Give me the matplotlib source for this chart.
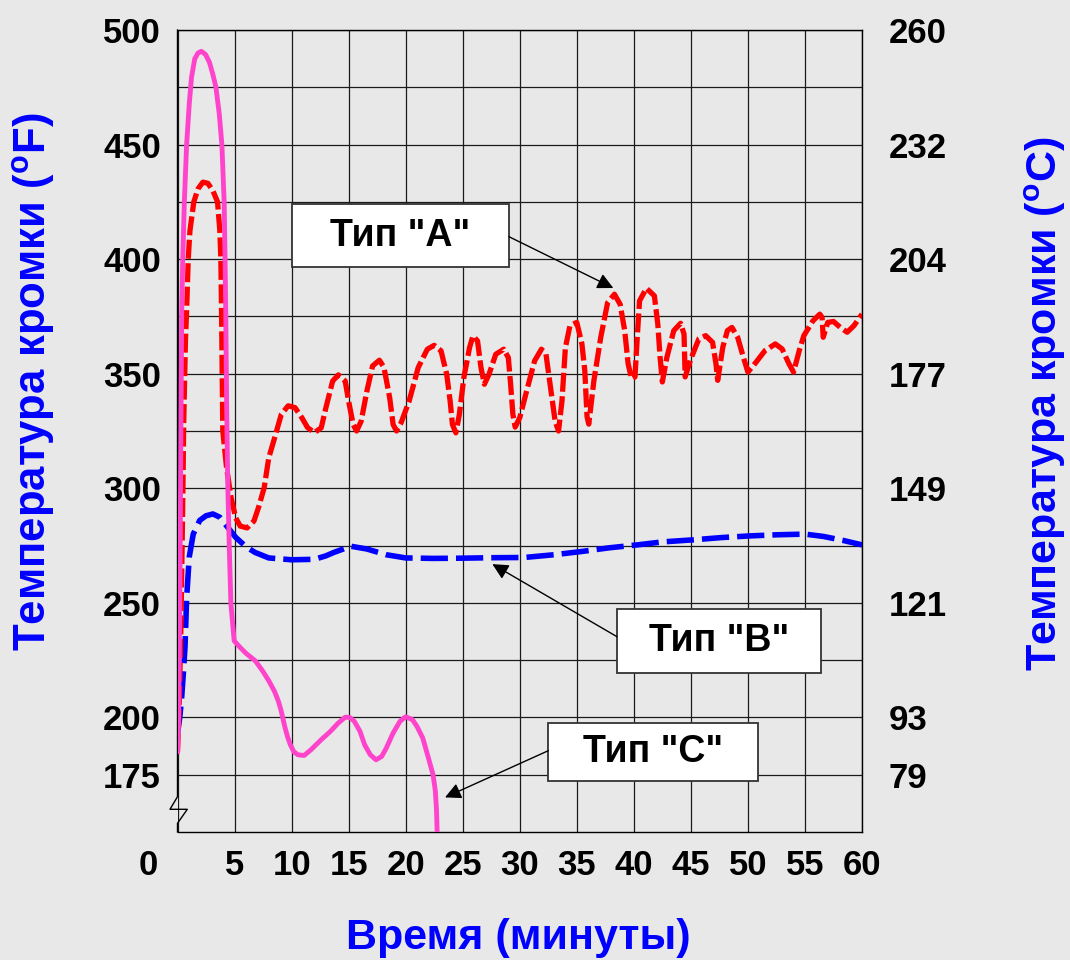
import matplotlib
matplotlib.use("Agg")
import matplotlib.pyplot as plt
from matplotlib.patches import Rectangle
from matplotlib.transforms import ScaledTranslation

plt.rcParams['font.family'] = ['Liberation Sans', 'DejaVu Sans']
plt.rcParams['font.weight'] = 'bold'
plt.rcParams['mathtext.fontset'] = 'custom'
plt.rcParams['mathtext.rm'] = 'Liberation Sans:bold'
plt.rcParams['mathtext.bf'] = 'Liberation Sans:bold'

# ---------------- data ----------------
red_t = [0.0, 0.15, 0.3, 0.45, 0.55, 0.7, 0.8, 0.94, 1.09, 1.43, 1.8, 2.23, 2.66, 3.09, 3.51, 3.71,
         3.8, 3.86, 3.92, 3.97, 4.3, 4.7, 5.1, 5.5, 6.1, 6.7, 7.1, 7.6, 8.0, 8.6, 9.1, 9.7, 10.3, 10.9,
         11.4, 12.0, 12.6, 13.0, 13.6, 14.1, 14.7, 15.0, 15.4, 15.7, 16.1, 16.6, 17.1, 17.7, 18.1, 18.6,
         18.9, 19.2, 19.6, 20.3, 21.1, 21.9, 22.5, 23.1, 23.6, 23.9, 24.1, 24.4, 24.7, 25.1, 25.6, 25.9,
         26.3, 26.6, 26.9, 27.3, 27.9, 28.6, 29.0, 29.2, 29.4, 29.6, 30.0, 30.6, 31.3, 31.9, 32.3, 32.7,
         33.1, 33.4, 33.7, 34.0, 34.4, 35.0, 35.45, 35.7, 35.9, 36.05, 36.5, 37.1, 37.7, 38.3, 38.8, 39.2,
         39.5, 39.8, 40.1, 40.3, 40.5, 41.1, 41.8, 42.1, 42.3, 42.5, 42.9, 43.5, 44.1, 44.4, 44.5, 45.0,
         45.7, 46.3, 46.9, 47.2, 47.35, 47.8, 48.2, 48.6, 49.1, 49.6, 50.0, 50.6, 51.5, 52.4, 53.0, 53.6,
         54.0, 54.5, 54.9, 55.7, 56.3, 56.5, 56.6, 57.0, 57.5, 58.1, 58.7, 59.3, 60.0]
red_f = [185, 205, 240, 290, 330, 365, 377.5, 400, 412.4, 425, 430.7, 433.6, 433.1, 430, 425, 412.4,
         400, 377.5, 350, 325, 309, 295.8, 287.1, 283.5, 282.7, 285.7, 291.6, 300.3, 313.3, 323.5, 332.3, 336, 335.2, 330.8,
         326.5, 324.3, 326.4, 335, 346.8, 349.5, 346.8, 338, 327.8, 325, 329.3, 342.4, 353.4, 355.9, 352.7, 339.5,
         327.8, 325, 328.6, 338, 352.7, 360.7, 362.4, 360, 349.7, 338, 327.8, 324.2, 332, 348.3, 361.4, 366.5,
         364.3, 352.7, 345.4, 349.7, 358.5, 360.7, 357, 345.4, 332.2, 326.7, 330.8, 342.4, 355.6, 360.7, 358.5, 343.9,
         329.3, 325, 338, 361.4, 370.9, 372.4, 363, 351.4, 331.2, 328, 347, 365.9, 381, 384.7, 380.3, 368.8,
         354.3, 347.8, 348.6, 365.9, 381.8, 387.3, 384, 371.7, 357.2, 346.4, 357.2, 368.8, 372, 367.3, 348.6, 356.5,
         365.2, 366.6, 363.7, 354.3, 347.1, 361.6, 368.8, 370.2, 365.9, 357.2, 350.7, 354.3, 360.1, 363, 360.8, 354.3,
         350.7, 360.1, 366.6, 373.1, 376, 374.6, 365.9, 372.4, 372.8, 370.2, 368.1, 371, 376]

blue_t = [0.0, 0.2, 0.37, 0.55, 0.66, 0.8, 1.03, 1.38, 1.95, 2.5, 3.1, 3.7, 4.4, 5.1, 6.0, 6.8, 8.0,
          10.0, 12.0, 13.0, 13.7, 15.2, 16.6, 18.3, 20.0, 22.4, 25.0, 27.5, 30.4, 33.0, 35.4, 37.8,
          40.3, 42.5, 45.2, 47.7, 50.1, 52.5, 55.0, 56.6, 58.3, 60.0]
blue_f = [193, 200, 209, 222, 231, 252, 270, 280, 286, 288, 288.8, 287.4, 283, 278.6, 274.5, 272, 269.6,
          268.8, 269, 270.5, 272, 274.7, 273.5, 271, 269.6, 269.4, 269.5, 269.7, 269.8, 271, 272.4, 274,
          275.3, 276.6, 277.5, 278.5, 279.2, 279.7, 280, 279, 277.3, 275.3]

pink_t = [0.0, 0.1, 0.2, 0.28, 0.33, 0.37, 0.46, 0.6, 0.8, 1.03, 1.23, 1.51, 1.8, 2.09, 2.46, 2.8, 3.09,
          3.37, 3.66, 3.89, 4.09, 4.17, 4.23, 4.3, 4.4, 4.54, 4.68, 4.97, 5.5, 6.0, 6.84, 7.5, 8.0, 8.5,
          8.85, 9.1, 9.4, 9.65, 9.9, 10.2, 10.55, 11.1, 11.7, 12.6, 13.4, 14.1, 14.7, 15.1, 15.5, 16.0,
          16.4, 16.9, 17.4, 17.9, 18.3, 18.9, 19.5, 20.0, 20.6, 21.0, 21.5, 22.0, 22.4, 22.6, 22.7, 22.76]
pink_f = [184, 200, 250, 310, 350, 377.5, 400, 425, 450, 467.7, 479.4, 487.4, 490, 490.7, 489.3, 485.9, 480.8,
          475, 463.4, 450, 425, 400, 377.5, 340, 303, 274, 249.6, 233.4, 230.5, 228, 224.6, 220, 216, 211.4,
          207, 202.6, 196, 191.5, 188, 185, 183.7, 183.4, 185.9, 190.3, 193.9, 197.6, 200.1, 200, 198.3, 193.9,
          188.1, 183.7, 181.5, 183, 186.6, 193.2, 198.3, 200.3, 199, 196, 191, 182.2, 175, 168, 160, 150]

left_ticks = [175, 200, 250, 300, 350, 400, 450, 500]
left_labels = ['175', '200', '250', '300', '350', '400', '450', '500']
right_labels = ['79', '93', '121', '149', '177', '204', '232', '260']
minor_ticks = [225, 275, 325, 375, 425, 475]
x_ticks = [0, 5, 10, 15, 20, 25, 30, 35, 40, 45, 50, 55, 60]
x_labels = ['0', '5', '10', '15', '20', '25', '30', '35', '40', '45', '50', '55', '60']

labels_abc = ['Тип "A"', 'Тип "B"', 'Тип "C"']
arrow_tips = [(38.2, 387.4), (27.6, 266.9), (23.45, 165.1)]

xlabel = 'Время (минуты)'
ylabel_f = r'Температура кромки ($^{\mathrm{o}}$F)'
ylabel_c = r'Температура кромки ($^{\mathrm{o}}$C)'

# ---------------- figure ----------------
BG = '#e8e8e8'
W, H = 1070, 960
fig = plt.figure(figsize=(W / 100, H / 100), dpi=100, facecolor=BG)
L, R, T, B = 177.5, 862, 30, 832
ax = fig.add_axes([L / W, 1 - B / H, (R - L) / W, (B - T) / H])
ax.set_facecolor(BG)
ax.set_xlim(0, 60)
ax.set_ylim(150, 500)

ax.set_xticks(x_ticks)
ax.set_xticklabels(x_labels)
ax.set_yticks(left_ticks)
ax.set_yticklabels(left_labels)
ax.set_yticks(minor_ticks, minor=True)
ax.tick_params(axis='both', which='both', length=0)
ax.tick_params(axis='y', labelsize=25, pad=12)
ax.tick_params(axis='x', labelsize=25, pad=12)
ax.grid(True, which='both', color='#1a1a1a', lw=0.9)
ax.set_axisbelow(True)
for s in ['top', 'right', 'bottom']:
    ax.spines[s].set_color('black')
    ax.spines[s].set_linewidth(1.0)
ax.spines['left'].set_visible(False)

# shift the "0" label to the left as in the reference
lab0 = ax.get_xticklabels()[0]
lab0.set_transform(lab0.get_transform() + ScaledTranslation(-0.29, 0, fig.dpi_scale_trans))

# broken left axis line
fx = lambda px: (px - L) / (R - L)
fy = lambda py: (B - py) / (B - T)
ax.plot([0, 0, fx(170), fx(187.3), 0, 0],
        [1, fy(796.7), fy(809.3), fy(809.3), fy(823.3), 0],
        transform=ax.transAxes, color='black', lw=1.0, clip_on=False, zorder=3)

# right axis
ax2 = ax.twinx()
ax2.set_ylim(150, 500)
ax2.set_yticks(left_ticks)
ax2.set_yticklabels(right_labels)
ax2.tick_params(axis='y', length=0, labelsize=25, pad=19)
for s in ax2.spines.values():
    s.set_visible(False)

# curves
ax.plot(blue_t, blue_f, color='#0000ff', lw=4.0, dashes=(4.9, 1.45),
        dash_capstyle='butt', solid_joinstyle='round', dash_joinstyle='round', zorder=3)
ax.plot(red_t, red_f, color='#ff0000', lw=3.8, dashes=(3.6, 0.85),
        dash_capstyle='butt', dash_joinstyle='round', zorder=3)
ax.plot(pink_t, pink_f, color='#ff44cc', lw=3.5, solid_joinstyle='round',
        solid_capstyle='butt', zorder=4)

# annotation boxes
boxes = [(292, 509, 204, 267), (617, 820.5, 609, 673.3), (548.3, 758.3, 722.7, 781)]
starts = [(509, 236.7), (617, 636.7), (548.3, 750.7)]
for lab, (x0, x1, y0, y1), (sx, sy), tip in zip(labels_abc, boxes, starts, arrow_tips):
    ax.add_patch(Rectangle((fx(x0), fy(y1)), fx(x1) - fx(x0), fy(y0) - fy(y1),
                           transform=ax.transAxes, facecolor='white', edgecolor='#333333',
                           lw=1.3, zorder=6, clip_on=False))
    ax.text((fx(x0) + fx(x1)) / 2, (fy(y0) + fy(y1)) / 2, lab, transform=ax.transAxes,
            ha='center', va='center', fontsize=27, fontweight='bold', color='black', zorder=7)
    ax.annotate('', xy=tip, xycoords='data', xytext=(fx(sx), fy(sy)), textcoords='axes fraction',
                arrowprops=dict(arrowstyle='-|>', color='black', lw=1.0, mutation_scale=24,
                                shrinkA=0, shrinkB=0), zorder=7)

# axis titles
fig.text(518 / W, 1 - 938 / H, xlabel, ha='center', va='center', fontsize=31,
         fontweight='bold', color='#0000ff')
fig.text(34 / W, 1 - 382 / H, ylabel_f, ha='center', va='center', fontsize=31.5,
         fontweight='bold', color='#0000ff', rotation=90)
fig.text(1045 / W, 1 - 404 / H, ylabel_c, ha='center', va='center', fontsize=31,
         fontweight='bold', color='#0000ff', rotation=90)

fig.savefig('out.png', dpi=100, facecolor=BG)
